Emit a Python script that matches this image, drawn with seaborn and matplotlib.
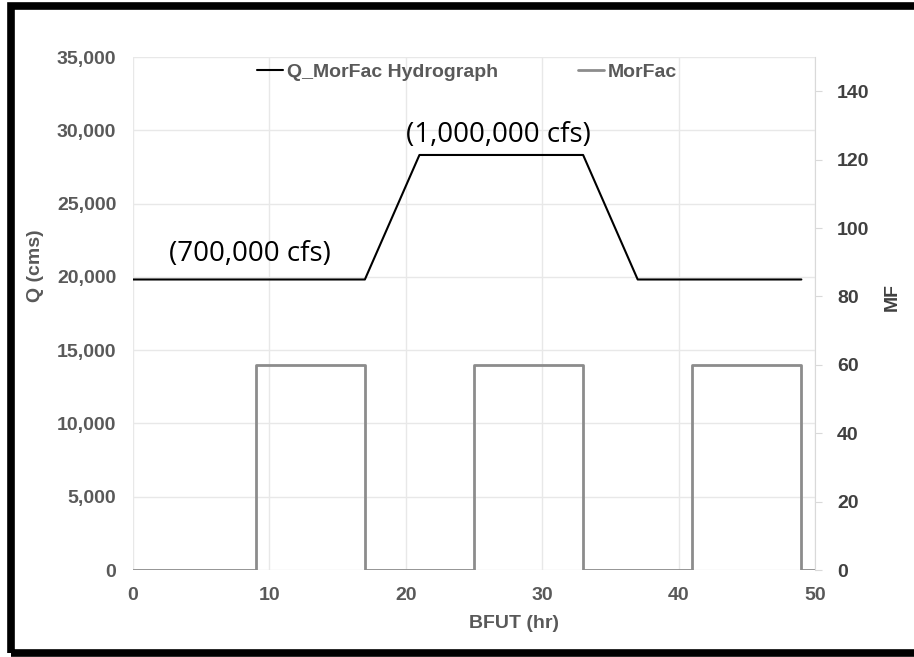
import seaborn as sns
import pandas as pd
import numpy as np
import matplotlib
matplotlib.use("Agg")
import matplotlib.pyplot as plt
import matplotlib.ticker as ticker
from matplotlib.patches import Rectangle

# hydrograph (cms) vs time (hr)
q_time = [0, 17, 21, 33, 37, 49]
q_flow = [19822, 19822, 28317, 28317, 19822, 19822]

# morphological factor, step series
mf_time = [0, 9, 9, 17, 17, 25, 25, 33, 33, 41, 41, 49, 49, 50]
mf_value = [0, 0, 60, 60, 0, 0, 60, 60, 0, 0, 60, 60, 0, 0]

notes = ["(700,000 cfs)", "(1,000,000 cfs)"]
note_x = [8.6, 26.8]
note_y = [21550, 29700]

sns.set_style("whitegrid")
plt.rcParams['font.family'] = ['Liberation Sans', 'DejaVu Sans']

grid_c = "#e8e8e8"
lab_c = "#595959"
dark_c = "#404040"

fig = plt.figure(figsize=(9.14, 6.57), dpi=100)
ax = fig.add_axes([0.1455, 0.1324, 0.7462, 0.7808])
ax2 = ax.twinx()

df_q = pd.DataFrame({"BFUT": q_time, "Q": q_flow})
df_mf = pd.DataFrame({"BFUT": mf_time, "MF": mf_value})

sns.lineplot(data=df_q, x="BFUT", y="Q", ax=ax, color="black", linewidth=1.5,
             estimator=None, sort=False, label="Q_MorFac Hydrograph", legend=False)
sns.lineplot(data=df_mf, x="BFUT", y="MF", ax=ax2, color="#8c8c8c", linewidth=2,
             estimator=None, sort=False, label="MorFac", legend=False)

ax.set_xlim(0, 50)
ax.set_ylim(0, 35000)
ax2.set_ylim(0, 150)
ax.xaxis.set_major_locator(ticker.MultipleLocator(10))
ax.yaxis.set_major_locator(ticker.MultipleLocator(5000))
ax2.yaxis.set_major_locator(ticker.FixedLocator([0, 20, 40, 60, 80, 100, 120, 140]))
ax.yaxis.set_major_formatter(ticker.FuncFormatter(lambda v, p: f"{int(v):,}"))

for a in (ax, ax2):
    for s in a.spines.values():
        s.set_visible(False)
ax.grid(True, color=grid_c, linewidth=1)
ax2.grid(False)
ax2.spines["right"].set_visible(True)
ax2.spines["right"].set_color("#d9d9d9")

ax.tick_params(axis="both", length=0, labelsize=14, labelcolor=lab_c, pad=12)
ax.tick_params(axis="x", pad=12)
ax2.tick_params(axis="y", length=5, color="#d9d9d9", labelsize=14, labelcolor=dark_c, pad=11)
for t in ax.get_xticklabels() + ax.get_yticklabels() + ax2.get_yticklabels():
    t.set_fontweight("bold")

ax.set_xlabel("BFUT (hr)", fontsize=14, fontweight="bold", color=lab_c)
ax.set_ylabel("Q (cms)", fontsize=14, fontweight="bold", color=lab_c)
ax2.set_ylabel("MF", fontsize=14, fontweight="bold", color=dark_c)
ax.xaxis.set_label_coords(0.559, -0.087)
ax.yaxis.set_label_coords(-0.131, 0.593)
ax2.yaxis.set_label_coords(1.101, 0.532)

for txt, x, y in zip(notes, note_x, note_y):
    ax.text(x, y, txt, ha="center", va="center", fontsize=20, family="Open Sans", color="black")

h1, l1 = ax.get_legend_handles_labels()
h2, l2 = ax2.get_legend_handles_labels()
leg = ax.legend(h1 + h2, l1 + l2, loc="upper center", bbox_to_anchor=(0.49, 1.022), ncol=2,
                frameon=False, handlelength=1.35, handletextpad=0.2, columnspacing=4.1,
                prop={"weight": "bold", "size": 14})
for t in leg.get_texts():
    t.set_color(lab_c)
leg.set_zorder(5)

# black frame around the picture
fig.patches.append(Rectangle((0.0125, 0.0066), 1.2, 0.9847, transform=fig.transFigure,
                             fill=False, edgecolor="black", linewidth=5.5, zorder=10))

fig.savefig("out.png", dpi=100)
